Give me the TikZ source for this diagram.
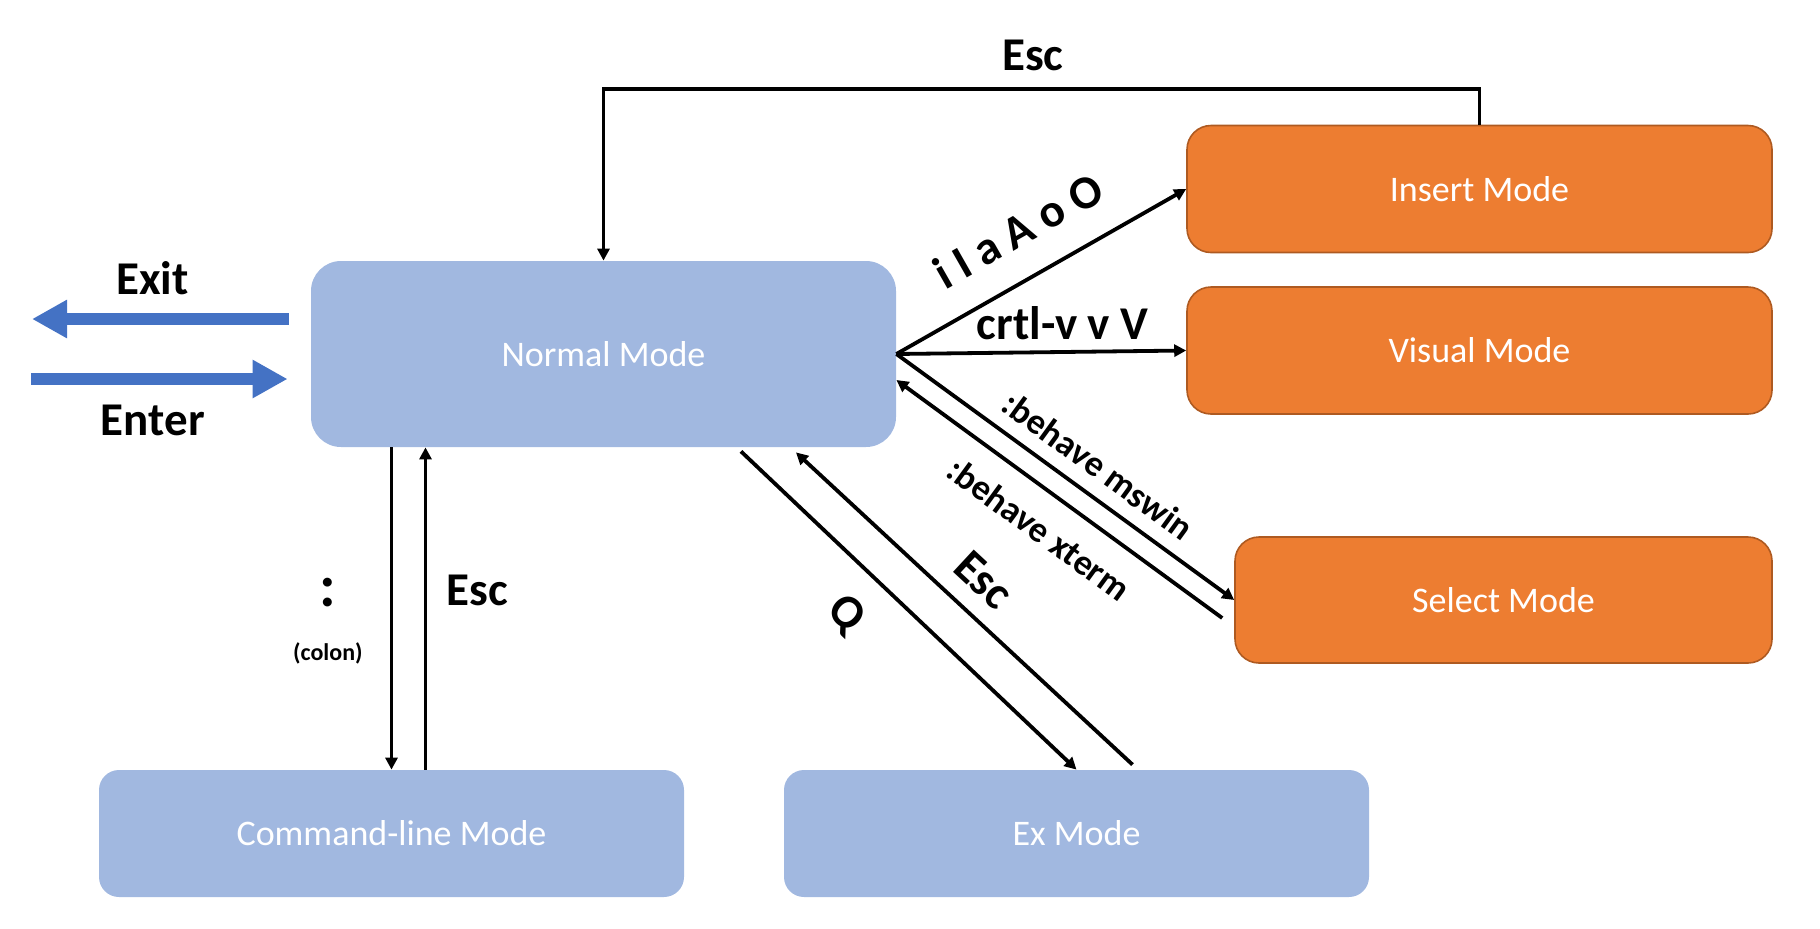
\documentclass[tikz,border=0pt]{standalone}
\usepackage{fontspec}
\setmainfont{Carlito}
\usetikzlibrary{arrows.meta, positioning}
\definecolor{modeblue}{RGB}{161,184,224}
\definecolor{modeorange}{RGB}{237,125,49}
\definecolor{orangeline}{RGB}{174,90,33}
\definecolor{arrowblue}{RGB}{68,114,196}

\begin{document}
\begin{tikzpicture}[
    x=0.5pt, y=-0.5pt,
    mode/.style={rounded corners=12pt, inner sep=0pt, text=white,
      font=\fontsize{18}{20}\selectfont, minimum width=292.5pt, minimum height=63.5pt},
    blue mode/.style={mode, fill=modeblue},
    orange mode/.style={mode, fill=modeorange, draw=orangeline, line width=0.8pt},
    conn/.style={draw, line width=1.9pt, -{Triangle[length=6pt,width=6pt]}},
    key label/.style={font=\bfseries\fontsize{23.5}{26}\selectfont, inner sep=0pt},
    behave label/.style={font=\bfseries\fontsize{18}{20}\selectfont, inner sep=0pt},
    fat arrow/.style={draw=arrowblue, line width=6pt, -{Triangle[length=17.5pt,width=18pt]}}
  ]
  \useasboundingbox (0,0) rectangle (1820,928);

  % Modes
  \node[blue mode, minimum height=93pt, rounded corners=15pt] (nrm) at (603.5,354) {Normal Mode};
  \node[orange mode] (ins) at (1479.5,189) {Insert Mode};
  \node[orange mode] (vis) at (1479.5,350.5) {Visual Mode};
  \node[orange mode, minimum width=268.5pt, minimum height=63pt] (sel) at (1503.5,600) {Select Mode};
  \node[blue mode, rounded corners=10pt] (cmd) at (391.5,833.5) {Command-line Mode};
  \node[blue mode, rounded corners=10pt] (ex) at (1076.5,833.5) {Ex Mode};

  % Enter / Exit
  \coordinate (exitA) at ([shift={(-22,-35)}]nrm.west);
  \coordinate (exitB) at (32,319);
  \draw[fat arrow] (exitA) -- node[key label, above=9pt, pos=0.53] {Exit} (exitB);
  \coordinate (enterA) at (31,379);
  \coordinate (enterB) at ([shift={(-23,25)}]nrm.west);
  \draw[fat arrow] (enterA) -- node[key label, below=10pt, pos=0.475] {Enter} (enterB);

  % Normal <-> Insert, Visual, Select
  \coordinate (escR) at ([yshift=18pt]ins.north);
  \draw[conn] (ins.north) -- (escR) -- node[key label, above=8pt, pos=0.51] {Esc} (escR -| nrm.north) -- (nrm.north);
  \draw[conn] (nrm.east) -- node[key label, sloped, above=14.5pt] {i I a A o O} (ins.west);
  \draw[conn] (nrm.east) -- node[key label, above=5pt, pos=0.574] {crtl-v v V} (vis.west);
  \draw[conn] (nrm.east) -- node[behave label, sloped, above=7pt, pos=0.547] {:behave mswin} (sel.west);
  \coordinate (xtA) at ([shift={(-12,18)}]sel.west);
  \coordinate (xtB) at ([shift={(0,26)}]nrm.east);
  \draw[conn] (xtA) -- node[behave label, sloped, below=10.7pt, pos=0.497] {:behave xterm} (xtB);

  % Normal <-> Command-line
  \coordinate (clA) at (cmd.north |- nrm.south);
  \draw[conn] (clA) -- node[font=\bfseries\fontsize{30}{30}\selectfont, inner sep=0pt, left=27pt, pos=0.449] {:}
    node[font=\bfseries\fontsize{12}{14}\selectfont, inner sep=0pt, left=13.5pt, pos=0.638] {(colon)} (cmd.north);
  \coordinate (clB) at ([shift={(34,0)}]cmd.north);
  \coordinate (clC) at (clB |- nrm.south);
  \draw[conn] (clB) -- node[key label, right=9.5pt, pos=0.557] {Esc} (clC);

  % Normal <-> Ex
  \coordinate (qA) at ([shift={(137.5,4)}]nrm.south);
  \draw[conn] (qA) -- node[key label, sloped, below=13pt, pos=0.408] {Q} (ex.north);
  \coordinate (exA) at ([shift={(56,-5)}]ex.north);
  \coordinate (exB) at ([shift={(192.5,5)}]nrm.south);
  \draw[conn] (exA) -- node[key label, sloped, above=8.4pt, pos=0.511] {Esc} (exB);
\end{tikzpicture}
\end{document}
